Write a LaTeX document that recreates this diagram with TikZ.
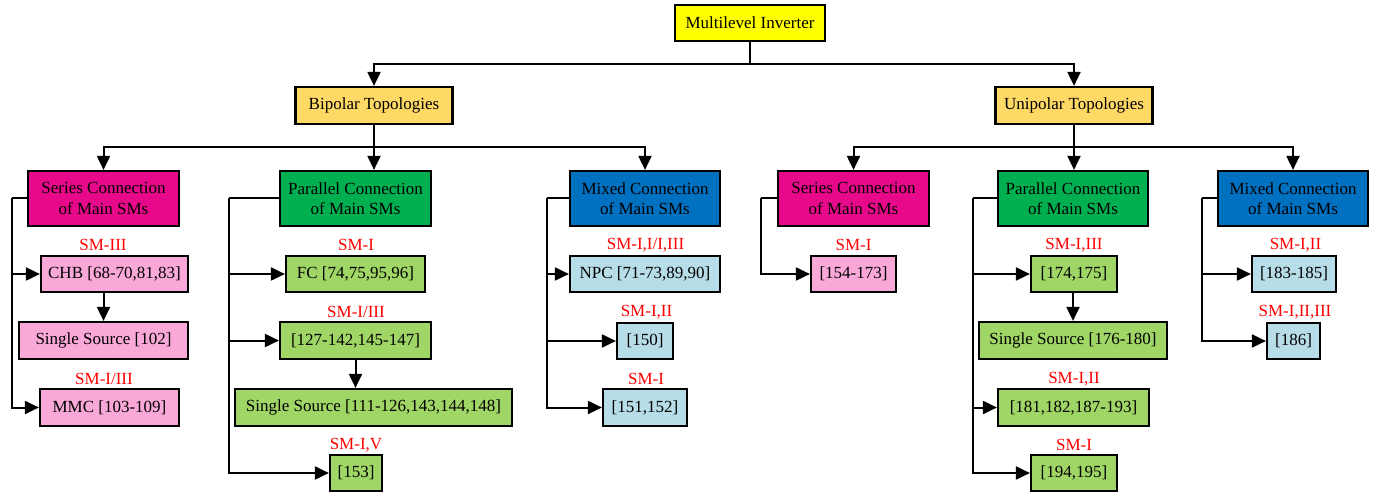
\documentclass[tikz,border=0pt]{standalone}
\usepackage{fontspec}
\setmainfont{Liberation Serif}
\usetikzlibrary{arrows.meta}
\definecolor{cyel}{HTML}{FFFF00}
\definecolor{ctopo}{HTML}{FFD966}
\definecolor{cmag}{HTML}{E8088A}
\definecolor{cgrn}{HTML}{00B050}
\definecolor{cblu}{HTML}{0070C0}
\definecolor{cpink}{HTML}{FAA8D8}
\definecolor{clgrn}{HTML}{A0D665}
\definecolor{clblu}{HTML}{B7DDE8}
\definecolor{cred}{HTML}{FF0000}
\tikzset{
  box/.style={draw=black, line width=2.2pt, inner sep=0pt, align=center,
    font=\fontsize{17}{20.5}\selectfont},
  lab/.style={text=cred, inner sep=0pt, font=\fontsize{17}{20}\selectfont},
  conn/.style={draw=black, line width=2pt},
  arr/.style={conn, -{Triangle[length=14pt,width=13pt]}},
}
\begin{document}
\begin{tikzpicture}[x=1pt,y=-1pt]
\useasboundingbox (0,0) rectangle (1380,494);
% level 1
\node[box, fill=cyel, minimum width=150, minimum height=36] (mi) at (750,23) {Multilevel Inverter};
% level 2
\node[box, fill=ctopo, minimum width=157, minimum height=37] (bp) at (374,105.5) {Bipolar Topologies};
\node[box, fill=ctopo, minimum width=157, minimum height=37] (up) at (1074,105.5) {Unipolar Topologies};
% level 3
\node[box, fill=cmag, minimum width=151, minimum height=55] (sc1) at (103.5,198.5) {Series Connection\\of Main SMs};
\node[box, fill=cgrn, minimum width=151, minimum height=55] (pc1) at (355.5,198.5) {Parallel Connection\\of Main SMs};
\node[box, fill=cblu, minimum width=150, minimum height=55] (mc1) at (645,198.5) {Mixed Connection\\of Main SMs};
\node[box, fill=cmag, minimum width=151, minimum height=55] (sc2) at (853.5,198.5) {Series Connection\\of Main SMs};
\node[box, fill=cgrn, minimum width=150, minimum height=55] (pc2) at (1073,198.5) {Parallel Connection\\of Main SMs};
\node[box, fill=cblu, minimum width=150, minimum height=55] (mc2) at (1293,198.5) {Mixed Connection\\of Main SMs};
% bipolar series
\node[box, fill=cpink, minimum width=147, minimum height=36] (chb) at (114.5,274) {CHB [68-70,81,83]};
\node[box, fill=cpink, minimum width=169, minimum height=37] (ss1) at (103.5,340.5) {Single Source [102]};
\node[box, fill=cpink, minimum width=139, minimum height=37] (mmc) at (109.5,407.5) {MMC [103-109]};
\node[lab] (l1) at (103,245) {SM-III};
\node[lab] (l2) at (104,379) {SM-I/III};
% bipolar parallel
\node[box, fill=clgrn, minimum width=139, minimum height=36] (fc) at (355.5,274) {FC [74,75,95,96]};
\node[box, fill=clgrn, minimum width=151, minimum height=37] (p127) at (355.5,340.5) {[127-142,145-147]};
\node[box, fill=clgrn, minimum width=277, minimum height=37] (ss2) at (373.5,407.5) {Single Source [111-126,143,144,148]};
\node[box, fill=clgrn, minimum width=52, minimum height=36] (p153) at (356,473) {[153]};
\node[lab] (l3) at (356,245) {SM-I};
\node[lab] (l4) at (356,312) {SM-I/III};
\node[lab] (l5) at (356,445) {SM-I,V};
% bipolar mixed
\node[box, fill=clblu, minimum width=150, minimum height=36] (npc) at (645,274) {NPC [71-73,89,90]};
\node[box, fill=clblu, minimum width=56, minimum height=36] (p150) at (645,341) {[150]};
\node[box, fill=clblu, minimum width=84, minimum height=37] (p151) at (645,407.5) {[151,152]};
\node[lab] (l6) at (645.5,245) {SM-I,I/I,III};
\node[lab] (l7) at (646.5,312) {SM-I,II};
\node[lab] (l8) at (646,379) {SM-I};
% unipolar series
\node[box, fill=cpink, minimum width=85, minimum height=36] (p154) at (853.5,274) {[154-173]};
\node[lab] (l9) at (853.5,245) {SM-I};
% unipolar parallel
\node[box, fill=clgrn, minimum width=86, minimum height=36] (p174) at (1074,274) {[174,175]};
\node[box, fill=clgrn, minimum width=188, minimum height=37] (ss3) at (1073,340.5) {Single Source [176-180]};
\node[box, fill=clgrn, minimum width=151, minimum height=37] (p181) at (1073.5,407.5) {[181,182,187-193]};
\node[box, fill=clgrn, minimum width=86, minimum height=36] (p194) at (1074,473) {[194,195]};
\node[lab] (l10) at (1074,245) {SM-I,III};
\node[lab] (l11) at (1074,379) {SM-I,II};
\node[lab] (l12) at (1074,445) {SM-I};
% unipolar mixed
\node[box, fill=clblu, minimum width=84, minimum height=36] (p183) at (1294,274) {[183-185]};
\node[box, fill=clblu, minimum width=53, minimum height=36] (p186) at (1293.5,341) {[186]};
\node[lab] (l13) at (1295.5,245) {SM-I,II};
\node[lab] (l14) at (1295,312) {SM-I,II,III};
% junctions
\coordinate (j0) at (750,64);
\coordinate (j1) at (374,147);
\coordinate (j2) at (1074,147);
\coordinate (b1) at (12,198.5);
\coordinate (b2) at (229,198.5);
\coordinate (b3) at (547,198.5);
\coordinate (b4) at (761,198.5);
\coordinate (b5) at (973,198.5);
\coordinate (b6) at (1202,198.5);
% connectors level 1-2
\draw[conn] (mi.south) -- (j0);
\draw[arr] (j0) -| (bp.north);
\draw[arr] (j0) -| (up.north);
% bipolar to level 3
\draw[arr] (bp.south) -- (bp.south |- pc1.north);
\draw[arr] (j1) -| (sc1.north);
\draw[arr] (j1) -| (mc1.north);
% unipolar to level 3
\draw[arr] (up.south) -- (up.south |- pc2.north);
\draw[arr] (j2) -| (sc2.north);
\draw[arr] (j2) -| (mc2.north);
% side branches
\draw[conn] (sc1.west) -- (b1);
\draw[arr] (b1) |- (chb.west);
\draw[arr] (b1) |- (mmc.west);
\draw[arr] (chb.south -| ss1.north) -- (ss1.north);
\draw[conn] (pc1.west) -- (b2);
\draw[arr] (b2) |- (fc.west);
\draw[arr] (b2) |- (p127.west);
\draw[arr] (b2) |- (p153.west);
\draw[arr] (p127.south) -- (p127.south |- ss2.north);
\draw[conn] (mc1.west) -- (b3);
\draw[arr] (b3) |- (npc.west);
\draw[arr] (b3) |- (p150.west);
\draw[arr] (b3) |- (p151.west);
\draw[conn] (sc2.west) -- (b4);
\draw[arr] (b4) |- (p154.west);
\draw[conn] (pc2.west) -- (b5);
\draw[arr] (b5) |- (p174.west);
\draw[arr] (b5) |- (p181.west);
\draw[arr] (b5) |- (p194.west);
\draw[arr] (p174.south -| ss3.north) -- (ss3.north);
\draw[conn] (mc2.west) -- (b6);
\draw[arr] (b6) |- (p183.west);
\draw[arr] (b6) |- (p186.west);
\end{tikzpicture}
\end{document}
